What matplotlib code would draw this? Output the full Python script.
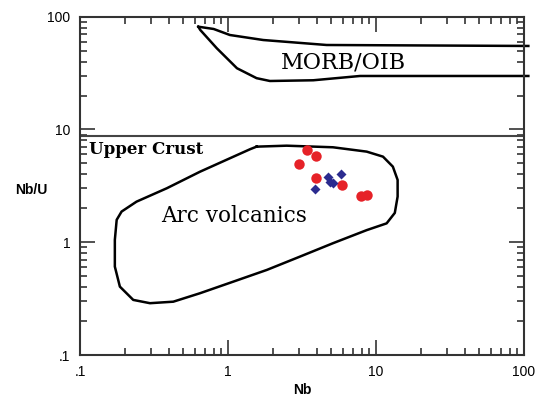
import numpy as np
import matplotlib.pyplot as plt
from matplotlib.ticker import FixedLocator, FixedFormatter, LogLocator, NullFormatter

# MORB/OIB field: upper and lower boundaries (open to the right)
morb_upper_nb = [0.63, 0.80, 1.03, 1.73, 4.64, 107]
morb_upper_ratio = [81.5, 77.8, 68.8, 62.1, 56.1, 55.0]
morb_lower_nb = [0.63, 0.65, 0.84, 1.15, 1.56, 1.92, 3.77, 7.8, 107]
morb_lower_ratio = [81.5, 76.2, 52.5, 34.9, 28.5, 26.9, 27.3, 29.8, 29.8]

# Arc volcanics field outline (closed)
arc_nb = [1.56, 2.49, 5.12, 8.65, 11.15, 13.0, 14.0, 14.0, 13.4, 11.8, 8.65, 5.12,
          3.06, 1.83, 1.09, 0.647, 0.427, 0.297, 0.229, 0.186, 0.172, 0.172, 0.177,
          0.191, 0.241, 0.386, 0.647, 1.09, 1.41, 1.56]
arc_ratio = [7.04, 7.18, 6.95, 6.36, 5.74, 4.68, 3.57, 2.54, 1.82, 1.47, 1.28, 0.98,
             0.745, 0.568, 0.448, 0.353, 0.297, 0.288, 0.308, 0.404, 0.608, 1.05, 1.58,
             1.87, 2.29, 3.01, 4.22, 5.74, 6.68, 7.04]

# Upper crust Nb/U
upper_crust = 8.8

# Samples
red_nb = [3.40, 3.93, 3.03, 3.93, 5.89, 7.88, 8.65]
red_ratio = [6.58, 5.82, 4.91, 3.69, 3.22, 2.57, 2.63]
blue_nb = [4.72, 5.77, 4.89, 5.15, 3.87]
blue_ratio = [3.82, 4.03, 3.45, 3.38, 2.95]

tick_vals = [0.1, 1, 10, 100]
tick_text = [".1", "1", "10", "100"]

fig = plt.figure(figsize=(5.43, 4.03), dpi=100)
ax = fig.add_axes([0.1473, 0.1191, 0.8177, 0.8395])
ax.set_xscale("log")
ax.set_yscale("log")
ax.set_xlim(0.1, 100)
ax.set_ylim(0.1, 100)

ax.plot(morb_upper_nb, morb_upper_ratio, color="black", lw=1.8, clip_on=False)
ax.plot(morb_lower_nb, morb_lower_ratio, color="black", lw=1.8, clip_on=False)
ax.plot(arc_nb, arc_ratio, color="black", lw=1.8, solid_joinstyle="round")
ax.axhline(upper_crust, color="#444444", lw=1.5)

ax.plot(red_nb, red_ratio, "o", color="#e62228", ms=7.5, mec="none")
ax.plot(blue_nb, blue_ratio, "D", color="#2b2b8f", ms=5.5, mec="none")

ax.text(6.0, 39, "MORB/OIB", family="DejaVu Serif", fontsize=16, ha="center", va="center")
ax.text(1.1, 1.7, "Arc volcanics", family="DejaVu Serif", fontsize=15.5, ha="center", va="center")
ax.text(0.115, 6.6, "Upper Crust", family="DejaVu Serif", fontweight="bold", fontsize=12,
        ha="left", va="center")

for axis in (ax.xaxis, ax.yaxis):
    axis.set_major_locator(FixedLocator(tick_vals))
    axis.set_major_formatter(FixedFormatter(tick_text))
    axis.set_minor_locator(LogLocator(base=10, subs=np.arange(2, 10), numticks=20))
    axis.set_minor_formatter(NullFormatter())

ax.tick_params(which="both", direction="in", top=True, right=True, width=1.2, color="#333333")
ax.tick_params(which="major", length=11, labelsize=10, pad=7)
ax.tick_params(which="minor", length=5)
for lab in ax.get_xticklabels() + ax.get_yticklabels():
    lab.set_family("Liberation Sans")
for sp in ax.spines.values():
    sp.set_linewidth(1.5)
    sp.set_color("#333333")

fig.text(0.028, 0.528, "Nb/U", family="Liberation Sans", fontweight="bold", fontsize=10,
         ha="left", va="center")
ax.set_xlabel("Nb", family="Liberation Sans", fontweight="bold", fontsize=10, labelpad=3)

fig.savefig("out.png", dpi=100)
